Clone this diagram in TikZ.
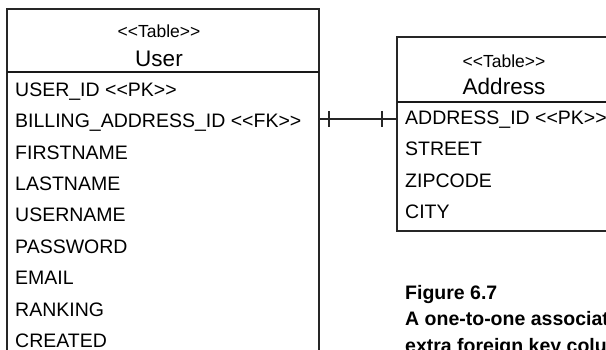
\documentclass[tikz,border=0pt]{standalone}
\usepackage{fontspec}
\setmainfont{Liberation Sans}
\begin{document}
\begin{tikzpicture}[x=1pt,y=-1pt,
  boxline/.style={draw=black!85, line width=1.3pt},
  sepline/.style={draw=black!90, line width=1.9pt},
  conn/.style={draw=black!85, line width=1.1pt},
  stereo/.style={inner sep=0pt, anchor=base, font=\fontsize{17.5}{20}\selectfont},
  tname/.style={inner sep=0pt, anchor=base, font=\fontsize{22.5}{26}\selectfont},
  col/.style={inner sep=0pt, anchor=base west, font=\fontsize{19.5}{22}\selectfont},
  captxt/.style={inner sep=0pt, anchor=base west, font=\bfseries\fontsize{19.5}{23}\selectfont}
]
\useasboundingbox (0,0) rectangle (606,350);
\clip (0,0) rectangle (606,350);
% User table
\draw[boxline] (7,9) rectangle (319,370);
\draw[sepline] (7,72) -- (319,72);
\node[stereo] (ust) at (159,38) {<{}<Table>{}>};
\node[tname] (uname) at (159,66.5) {User};
\node[col] (u1) at (15,96.4) {USER\_ID <{}<PK>{}>};
\node[col] (u2) at (15,127.8) {BILLING\_ADDRESS\_ID <{}<FK>{}>};
\node[col] (u3) at (15,159.2) {FIRSTNAME};
\node[col] (u4) at (15,190.6) {LASTNAME};
\node[col] (u5) at (15,222) {USERNAME};
\node[col] (u6) at (15,253.4) {PASSWORD};
\node[col] (u7) at (15,284.8) {EMAIL};
\node[col] (u8) at (15,316.2) {RANKING};
\node[col] (u9) at (15,347.6) {CREATED};
% Address table
\draw[boxline] (397,37) rectangle (640,231);
\draw[sepline] (397,102) -- (640,102);
\node[stereo] (ast) at (504,67.3) {<{}<Table>{}>};
\node[tname] (aname) at (504,95) {Address};
\node[col] (a1) at (405,124.5) {ADDRESS\_ID <{}<PK>{}>};
\node[col] (a2) at (405,156) {STREET};
\node[col] (a3) at (405,187.5) {ZIPCODE};
\node[col] (a4) at (405,219) {CITY};
% connector
\coordinate (cl) at (319,119);
\coordinate (cr) at (397,119);
\draw[conn] (cl) -- (cr);
\draw[conn] (329,111) -- (329,127);
\draw[conn] (382,111) -- (382,127);
% caption
\node[captxt] (c1) at (405,300) {Figure 6.7};
\node[captxt] (c2) at (405,326) {A one-to-one association with an};
\node[captxt] (c3) at (405,352.5) {extra foreign key column};
\end{tikzpicture}
\end{document}
